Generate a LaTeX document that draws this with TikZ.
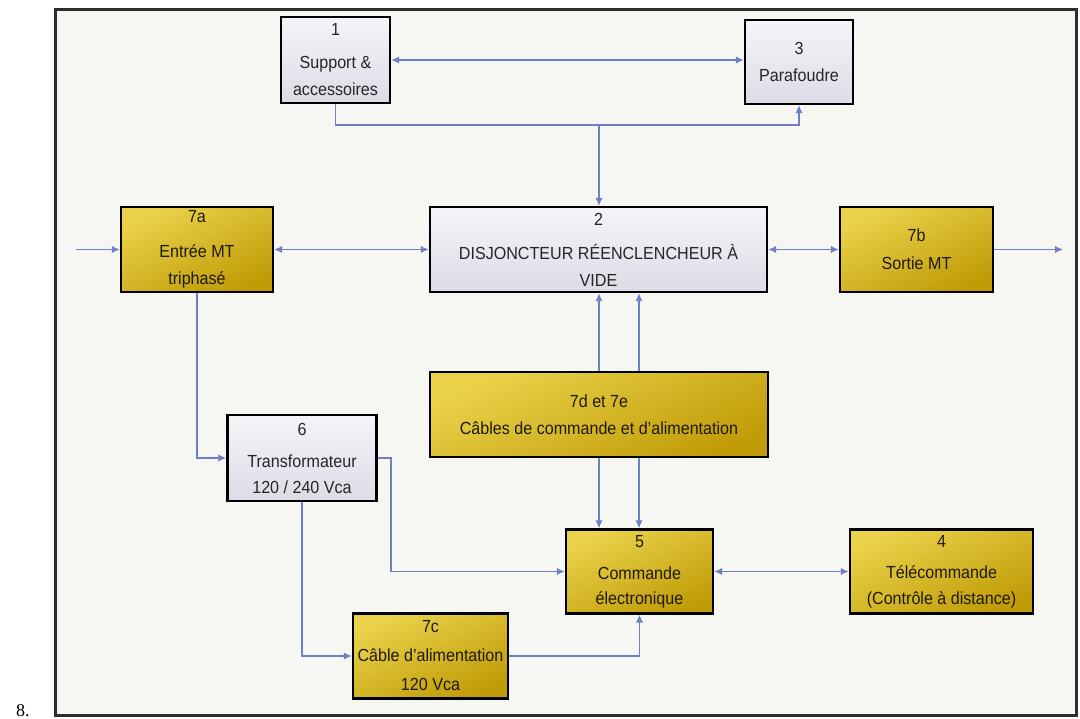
\documentclass[tikz,border=0pt]{standalone}
\usepackage{fontspec}
\setmainfont{Liberation Sans}[FakeStretch=0.92]
\newfontfamily\captionserif{Liberation Serif}
\usetikzlibrary{arrows.meta,calc}
\definecolor{framebg}{HTML}{F6F6F2}
\definecolor{frameline}{HTML}{2E2E2E}
\definecolor{wire}{HTML}{6F7FC6}
\definecolor{goldlight}{HTML}{EAD24A}
\definecolor{golddark}{HTML}{C09C08}
\definecolor{greylight}{HTML}{F4F4F8}
\definecolor{greydark}{HTML}{DCDCE6}
\definecolor{ink}{HTML}{262626}
\definecolor{goldink}{HTML}{1E1A08}
\tikzset{
  blockbase/.style={draw=black, line width=2.4pt, align=center, inner sep=0pt,
    text=ink, font=\fontsize{17.5}{26}\selectfont},
  goldbox/.style={blockbase, text=goldink, top color=goldlight, bottom color=golddark, shading angle=25},
  greybox/.style={blockbase, top color=greylight, bottom color=greydark},
  wirestyle/.style={draw=wire, line width=1.5pt, -{Latex[length=8pt,width=7.5pt]}},
  twoway/.style={wirestyle, {Latex[length=8pt,width=7.5pt]}-{Latex[length=8pt,width=7.5pt]}},
}
\begin{document}
\begin{tikzpicture}[x=1pt,y=-1pt]
\useasboundingbox (0,0) rectangle (1080,719);
% outer frame
\draw[line width=3pt, draw=frameline, fill=framebg] (55,10) rectangle (1076,715);
\node[font=\fontsize{18}{20}\selectfont\captionserif, anchor=base] (fig) at (23,716) {8.};

% blocks
\node[greybox, minimum width=109, minimum height=86] (n1) at (335.5,60)
  {1\\[7pt]Support \&\\[1pt]accessoires};
\node[greybox, minimum width=108, minimum height=84] (n3) at (799,62)
  {3\\[1pt]Parafoudre};
\node[greybox, minimum width=337, minimum height=85] (n2) at (598.5,249.5)
  {2\\[8pt]DISJONCTEUR RÉENCLENCHEUR À\\[1pt]VIDE};
\node[goldbox, minimum width=152, minimum height=85] (n7a) at (197,249.5)
  {7a\\[9pt]Entrée MT\\[1pt]triphasé};
\node[goldbox, minimum width=153, minimum height=85] (n7b) at (916.5,249.5)
  {7b\\[2pt]Sortie MT};
\node[goldbox, minimum width=338, minimum height=85] (n7d) at (599,414.5)
  {7d et 7e\\[1pt]Câbles de commande et d'alimentation};
\node[greybox, minimum width=149, minimum height=86] (n6) at (302,458)
  {6\\[6pt]Transformateur\\[0pt]120 / 240 Vca};
\node[goldbox, minimum width=147, minimum height=84] (n5) at (639.5,571.5)
  {5\\[6pt]Commande\\[-1pt]électronique};
\node[goldbox, minimum width=183, minimum height=84] (n4) at (941.5,571.5)
  {4\\[5pt]Télécommande\\[0pt](Contrôle à distance)};
\node[goldbox, minimum width=155, minimum height=85] (n7c) at (430.5,656)
  {7c\\[3pt]Câble d'alimentation\\[3pt]120 Vca};

% helper coordinates
\coordinate (bus) at (0,125);
\coordinate (feedA) at (599,0);
\coordinate (feedB) at (639,0);
\coordinate (jog) at (391,0);
\coordinate (lineIn) at (76,249.5);
\coordinate (lineOut) at (1063,249.5);

% connectors
\draw[twoway] (n1) -- (n3.west |- n1);
\draw[wirestyle] (n1.south) |- (bus -| n3.south) -- (n3.south);
\draw[wirestyle] (bus -| feedA) -- (n2.north -| feedA);
\draw[wirestyle] (lineIn) -- (n7a.west);
\draw[twoway] (n7a.east) -- (n2.west);
\draw[twoway] (n2.east) -- (n7b.west);
\draw[wirestyle] (n7b.east) -- (lineOut);
\draw[wirestyle] (n7d.north -| feedA) -- (n2.south -| feedA);
\draw[wirestyle] (n7d.north -| feedB) -- (n2.south -| feedB);
\draw[wirestyle] (n7d.south -| feedA) -- (n5.north -| feedA);
\draw[wirestyle] (n7d.south -| feedB) -- (n5.north -| feedB);
\draw[wirestyle] (n7a.south) |- (n6.west);
\draw[wirestyle] (n6.east) -- (n6.east -| jog) |- (n5.west);
\draw[wirestyle] (n6.south) |- (n7c.west);
\draw[wirestyle] (n7c.east) -| (n5.south);
\draw[twoway] (n5.east) -- (n4.west);
\end{tikzpicture}
\end{document}
